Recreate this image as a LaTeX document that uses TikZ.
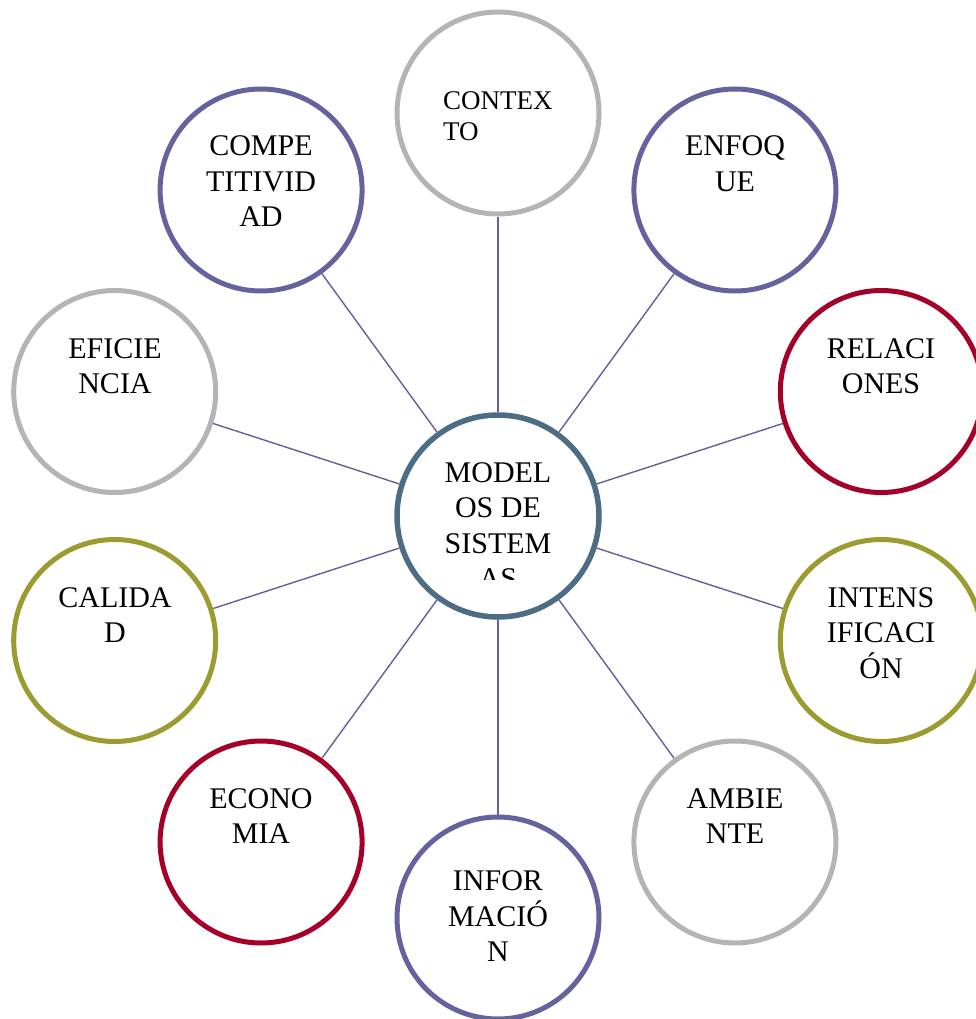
\documentclass[tikz,border=0pt]{standalone}
\usepackage{fontspec}
\setmainfont{Liberation Serif}
\usetikzlibrary{backgrounds}
\definecolor{cpurple}{RGB}{101,99,158}
\definecolor{cgray}{RGB}{180,180,180}
\definecolor{cred}{RGB}{165,0,40}
\definecolor{colive}{RGB}{155,155,48}
\definecolor{cteal}{RGB}{76,109,131}
\definecolor{cline}{RGB}{98,95,155}
\tikzset{
  bub/.style={circle, draw, line width=5pt, fill=white, minimum size=202pt, inner sep=0pt},
  hub/.style={bub, draw=cteal, line width=5.5pt},
  link/.style={draw=cline, line width=1.4pt},
  lbl/.style={inner sep=0pt, anchor=base, font=\fontsize{30}{35.5}\selectfont},
}
\newcommand\mylines[1]{\begin{tabular}[t]{@{}c@{}}#1\end{tabular}}
\newcommand\mylinesl[1]{\begin{tabular}[t]{@{}l@{}}#1\end{tabular}}
\begin{document}
\begin{tikzpicture}[x=1pt,y=-1pt]
\useasboundingbox (0,0) rectangle (975,1019);
% hub and outer circles
\node[hub] (hub) at (498,516) {};
\node[bub, draw=cgray]   (ctx) at (498,113) {};
\node[bub, draw=cpurple] (enf) at (734.9,190) {};
\node[bub, draw=cred]    (rel) at (881.3,391.5) {};
\node[bub, draw=colive]  (int) at (881.3,640.5) {};
\node[bub, draw=cgray]   (amb) at (734.9,842) {};
\node[bub, draw=cpurple] (inf) at (498,918) {};
\node[bub, draw=cred]    (eco) at (261.1,842) {};
\node[bub, draw=colive]  (cal) at (114.7,640.5) {};
\node[bub, draw=cgray]   (efi) at (114.7,391.5) {};
\node[bub, draw=cpurple] (com) at (261.1,190) {};
% connectors
\begin{pgfonlayer}{background}
\foreach \o in {ctx,enf,rel,int,amb,inf,eco,cal,efi,com}
  \draw[link] (hub) -- (\o);
\end{pgfonlayer}
% labels
\begin{scope}
\clip (396,440) rectangle (600,579.5);
\node[lbl] (thub) at (498,482) {\mylines{MODEL\\OS DE\\SISTEM\\AS}};
\end{scope}
\node[lbl, anchor=base west, font=\fontsize{27}{31}\selectfont] (tctx) at (443,110) {\mylinesl{CONTEX\\TO}};
\node[lbl] (tenf) at (735,156) {\mylines{ENFOQ\\UE}};
\node[lbl] (trel) at (881,358) {\mylines{RELACI\\ONES}};
\node[lbl] (tint) at (881,607) {\mylines{INTENS\\IFICACI\\ÓN}};
\node[lbl] (tamb) at (735,808) {\mylines{AMBIE\\NTE}};
\node[lbl] (tinf) at (498,890) {\mylines{INFOR\\MACIÓ\\N}};
\node[lbl] (teco) at (261,808) {\mylines{ECONO\\MIA}};
\node[lbl] (tcal) at (115,607) {\mylines{CALIDA\\D}};
\node[lbl] (tefi) at (115,358) {\mylines{EFICIE\\NCIA}};
\node[lbl] (tcom) at (261,156) {\mylines{COMPE\\TITIVID\\AD}};
\end{tikzpicture}
\end{document}
